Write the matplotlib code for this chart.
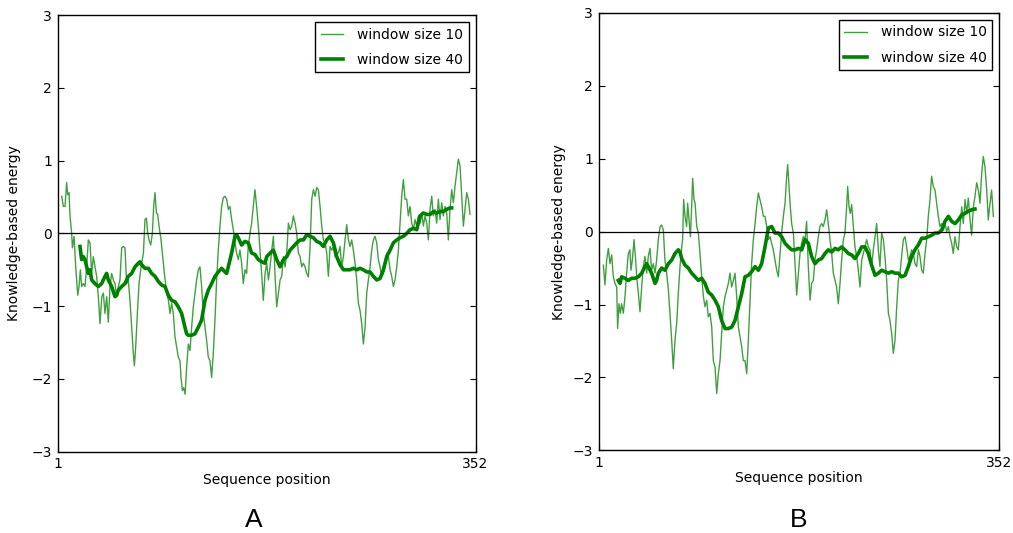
# -*- coding: utf-8 -*-
"""
Knowledge-based energy profiles, panels A and B
"""
import matplotlib
matplotlib.use("Agg")
import matplotlib.pyplot as plot

"""
data read off the two panels
"""
seqLength = 352
yTicks = [-3, -2, -1, 0, 1, 2, 3]
xTicks = [1, 352]
panelNames = ["A", "B"]
labelThin = "window size 10"
labelThick = "window size 40"

# panel A, window size 10
posA10 = [4.3, 5.7, 7.1, 8.5, 9.4, 10.5, 11.3, 12.7, 13.3, 14.7, 16.1, 17.8, 18.9, 20.0, 21.1, 22.5,
          23.9, 25.3, 26.7, 28.1, 29.5, 30.9, 32.3, 33.7, 35.1, 36.5, 38.0, 39.3, 40.7, 42.1, 43.5,
          44.9, 46.3, 47.7, 49.1, 50.5, 51.9, 53.3, 54.7, 56.1, 57.5, 58.9, 60.3, 61.7, 63.1, 64.5,
          65.4, 66.5, 67.9, 69.3, 71.0, 73.0, 74.3, 75.5, 76.6, 77.7, 79.1, 80.5, 81.6, 82.7, 83.9,
          85.0, 86.1, 87.8, 88.9, 90.6, 92.5, 94.0, 95.3, 96.7, 98.1, 99.5, 100.9, 102.3, 103.7,
          104.6, 105.7, 106.8, 108.0, 109.3, 110.7, 112.1, 113.5, 114.9, 116.3, 117.7, 119.1, 120.5,
          121.9, 123.3, 124.7, 126.1, 127.5, 128.9, 130.3, 131.7, 133.1, 134.5, 135.9, 137.3, 138.7,
          140.1, 141.5, 142.9, 144.3, 145.7, 147.1, 148.5, 149.9, 151.3, 152.7, 154.1, 155.5, 156.9,
          158.3, 159.7, 161.1, 162.5, 163.9, 165.3, 166.7, 168.1, 169.5, 170.9, 172.3, 173.7,
          175.2, 176.6, 178.0, 179.4, 180.8, 182.2, 183.6, 185.0, 186.4, 187.8, 189.2, 190.6, 192.0,
          193.4, 194.8, 196.2, 197.6, 199.0, 200.4, 201.8, 203.2, 204.6, 206.0, 207.4, 208.8, 210.2,
          211.6, 213.0, 214.4, 215.8, 217.2, 218.6, 220.0, 221.4, 222.8, 224.2, 225.6, 227.0, 228.4,
          229.8, 231.2, 232.6, 234.0, 235.4, 236.8, 238.2, 239.6, 241.0, 242.4, 243.8, 245.2, 246.6,
          248.0, 249.4, 250.8, 252.2, 253.6, 255.0, 256.4, 257.8, 259.2, 260.6, 262.0, 263.4, 264.8,
          266.2, 267.6, 269.0, 270.4, 271.8, 273.2, 274.6, 276.0, 277.4, 278.8, 280.2, 281.6, 283.0,
          284.4, 285.8, 287.2, 288.6, 290.0, 291.4, 292.8, 294.2, 295.6, 297.0, 298.4, 299.8, 301.2,
          302.6, 304.0, 305.4, 306.8, 308.2, 309.6, 311.0, 312.4, 313.8, 315.2, 316.6, 318.0, 319.4,
          320.8, 322.2, 323.6, 325.0, 326.4, 327.8, 329.2, 330.6, 332.0, 333.4, 334.8, 336.2, 337.6,
          339.0, 340.4, 341.8, 343.2, 344.6, 346.0, 347.4]
energyA10 = [0.51, 0.37, 0.37, 0.70, 0.53, 0.56, 0.24, 0.00, -0.20, -0.04, -0.46, -0.85, -0.73, -0.50,
             -0.73, -0.69, -0.73, -0.46, -0.09, -0.13, -0.55, -0.32, -0.46, -0.59, -0.87, -1.24, -0.87,
             -0.82, -1.10, -0.87, -1.22, -0.73, -0.55, -0.64, -0.69, -0.87, -0.73, -0.64, -0.20, -0.18,
             -0.20, -0.69, -0.64, -0.92, -1.29, -1.65, -1.82, -1.56, -1.10, -0.69, -0.46, -0.27, 0.19,
             0.21, 0.00, -0.09, -0.16, 0.00, 0.37, 0.56, 0.28, 0.26, 0.10, -0.09, -0.27, -0.55, -0.82,
             -0.92, -1.10, -0.96, -1.10, -1.42, -1.56, -1.70, -1.75, -1.98, -2.16, -2.12, -2.21, -1.84,
             -1.52, -1.61, -1.29, -1.01, -0.82, -0.64, -0.50, -0.46, -0.73, -1.10, -1.29, -1.47, -1.70,
             -1.75, -1.98, -1.65, -1.19, -0.64, -0.23, 0.10, 0.37, 0.49, 0.51, 0.47, 0.33, 0.37, 0.19,
             0.05, -0.13, -0.27, -0.36, -0.23, -0.41, -0.69, -0.50, -0.55, -0.18, 0.00, 0.14, 0.37,
             0.60, 0.37, 0.10, -0.23, -0.55, -0.92,
             -0.55, -0.41, -0.64, -0.46, -0.23, -0.04, -0.59, -1.01, -0.82, -0.64, -0.59, -0.32, -0.46,
             -0.27, 0.14, 0.05, 0.10, 0.24, 0.14, 0.00, -0.27, -0.32, -0.46, -0.41, -0.46, -0.55,
             -0.60, -0.18, 0.47, 0.60, 0.51, 0.63, 0.60, 0.37, 0.10, -0.09, -0.13, -0.27, -0.59,
             -0.18, -0.23, -0.18, -0.32, -0.27, -0.27, -0.18, -0.46, -0.32, -0.09, 0.12, -0.09, -0.18,
             -0.09, -0.23, -0.41, -0.64, -0.96, -1.06, -1.24, -1.52, -1.29, -0.82, -0.64, -0.46, -0.23,
             -0.09, -0.04, -0.13, -0.36, -0.46, -0.59, -0.55, -0.46, -0.27, -0.32, -0.50, -0.59, -0.73,
             -0.64, -0.46, -0.23, 0.14, 0.51, 0.74, 0.47, 0.47, 0.24, 0.37, 0.14, 0.05, 0.19,
             0.10, 0.24, 0.14, 0.28, 0.10, 0.24, 0.14, -0.09, 0.33, 0.51, 0.24, 0.33, 0.14,
             0.47, 0.19, 0.42, 0.24, 0.37, 0.28, -0.09, 0.33, 0.60, 0.42, 0.65, 0.83, 1.02,
             0.93, 0.51, 0.10, 0.33, 0.56, 0.47, 0.26]

# panel A, window size 40
posA40 = [19.7, 21.1, 22.5, 23.9, 25.3, 26.7, 28.1, 29.5, 32.3, 35.1, 37.9, 40.7, 42.1, 43.5, 46.3,
          49.1, 50.5, 51.9, 54.7, 57.5, 60.3, 63.1, 65.9, 68.7, 70.1, 71.5, 74.3, 77.1, 79.9, 82.7,
          85.5, 88.3, 91.1, 93.9, 96.7, 99.5, 102.3, 105.1, 107.9, 109.3, 110.7, 113.5, 116.3, 119.1,
          121.9, 124.7, 127.5, 130.3, 133.1, 135.9, 138.7, 141.5, 142.9, 144.3, 147.1, 149.9, 151.3,
          152.7, 155.5, 158.3, 161.1, 163.9, 166.7, 169.5, 172.3, 175.1,
          176.6, 179.4, 182.2, 185.0, 187.8, 190.6, 193.4, 196.2, 199.0, 201.8, 204.6, 207.4, 210.2,
          213.0, 215.8, 218.6, 221.4, 224.2, 227.0, 229.8, 232.6, 235.4, 238.2, 241.0, 243.8, 246.6,
          249.4, 252.2, 255.0, 257.8, 260.6, 263.4, 266.2, 269.0, 271.8, 274.6, 277.4, 280.2, 283.0,
          285.8, 288.6, 291.4, 294.2, 297.0, 299.8, 302.6, 305.4, 308.2, 311.0, 313.8, 316.6, 319.4,
          322.2, 325.0, 327.8, 330.6, 332.0]
energyA40 = [-0.18, -0.36, -0.32, -0.36, -0.46, -0.55, -0.50, -0.64, -0.69, -0.73, -0.69, -0.59, -0.55,
             -0.64, -0.73, -0.87, -0.85, -0.78, -0.73, -0.69, -0.59, -0.55, -0.46, -0.41, -0.39, -0.43,
             -0.48, -0.48, -0.55, -0.59, -0.66, -0.71, -0.73, -0.85, -0.92, -0.94, -1.01, -1.10, -1.29,
             -1.38, -1.40, -1.40, -1.38, -1.29, -1.19, -0.92, -0.78, -0.69, -0.59, -0.53, -0.48, -0.53,
             -0.55, -0.46, -0.27, -0.04, -0.02, -0.06, -0.16, -0.11, -0.13, -0.27, -0.29, -0.36, -0.39,
             -0.41,
             -0.32, -0.27, -0.23, -0.36, -0.46, -0.36, -0.32, -0.23, -0.18, -0.13, -0.09, -0.09, -0.02,
             -0.04, -0.06, -0.11, -0.13, -0.18, -0.09, -0.04, -0.13, -0.32, -0.43, -0.50, -0.50, -0.50,
             -0.48, -0.50, -0.48, -0.50, -0.53, -0.53, -0.59, -0.64, -0.62, -0.50, -0.32, -0.23, -0.13,
             -0.09, -0.06, -0.04, 0.00, 0.05, 0.07, 0.05, 0.24, 0.28, 0.26, 0.26, 0.30, 0.28,
             0.30, 0.30, 0.33, 0.35, 0.35]

# panel B, window size 10
posB10 = [5.1, 6.5, 8.0, 9.5, 10.9, 12.4, 13.8, 15.3, 16.8, 17.6, 18.8, 20.0, 21.1, 22.6, 24.1, 25.5,
          27.0, 28.4, 29.3, 30.5, 32.0, 33.4, 34.6, 35.8, 37.2, 38.7, 40.1, 41.6, 43.1, 44.5, 46.0,
          47.4, 48.9, 50.4, 51.8, 53.3, 54.8, 56.2, 57.7, 59.1, 60.6, 62.1, 63.5, 65.0, 66.4, 67.9,
          69.4, 70.8, 72.3, 73.8, 74.6, 75.5, 76.7, 78.1, 79.0, 80.2, 81.4, 82.5, 83.4, 84.6, 85.5,
          87.0, 88.4, 89.8, 91.3, 92.8, 94.2, 95.7, 97.1, 98.6, 100.1, 101.5, 103.0, 104.5, 105.9,
          107.4, 108.8, 110.3, 111.8, 113.2, 114.7, 116.1, 117.6, 119.1, 120.5, 122.0, 123.5, 124.9,
          126.4, 127.8, 129.3, 130.8, 132.2, 133.7, 135.1, 136.6, 138.1, 139.5, 141.0, 142.4, 143.9,
          145.4, 146.8, 148.3, 149.8, 151.2, 152.7, 154.1, 155.6, 157.1, 158.5, 160.0, 161.4, 162.9,
          164.4, 165.8, 166.7, 167.9, 169.0, 170.2, 171.7, 173.1, 174.6, 176.1, 177.5,
          178.9, 180.4, 181.9, 183.3, 184.8, 186.3, 187.7, 189.2, 190.6, 192.1, 193.6, 195.0, 196.5,
          197.9, 199.4, 200.9, 202.3, 203.8, 205.3, 206.7, 208.2, 209.6, 211.1, 212.6, 214.0, 215.5,
          216.9, 218.4, 219.3, 220.5, 221.6, 222.8, 224.3, 225.7, 227.2, 228.6, 230.1, 231.6, 233.0,
          234.5, 236.0, 237.4, 238.9, 240.3, 241.8, 243.3, 244.7, 246.2, 247.6, 249.1, 250.6, 252.0,
          253.5, 255.0, 256.4, 257.9, 259.3, 260.8, 262.3, 263.7, 265.2, 266.6, 268.1, 269.6, 271.0,
          272.5, 273.9, 275.4, 276.9, 278.3, 279.8, 281.3, 282.7, 284.2, 285.6, 287.1, 288.6, 290.0,
          291.5, 292.9, 294.4, 295.9, 297.3, 298.8, 300.2, 301.7, 303.2, 304.6, 306.1, 307.6, 309.0,
          310.5, 311.9, 313.4, 314.9, 316.3, 317.8, 319.3, 320.7, 322.2, 323.6, 325.1, 326.6, 328.0,
          329.5, 330.9, 332.4, 333.9, 335.3, 336.8, 338.2, 339.7, 341.2, 342.6, 344.1, 345.5, 347.0]
energyB10 = [-0.46, -0.73, -0.39, -0.23, -0.44, -0.32, -0.62, -0.71, -0.76, -1.33, -0.99, -1.12, -0.99,
             -1.12, -0.89, -0.57, -0.30, -0.25, -0.53, -0.39, -0.11, -0.39, -0.67, -0.85, -1.10, -0.76,
             -0.48, -0.34, -0.57, -0.34, -0.23, -0.53, -0.44, -0.57, -0.39, -0.11, 0.07, 0.09, 0.02,
             -0.39, -0.57, -0.80, -1.12, -1.49, -1.88, -1.49, -1.26, -0.85, -0.48, -0.21, -0.11, 0.44,
             0.21, 0.07, 0.39, 0.16, -0.07, 0.34, 0.73, 0.44, 0.39, 0.07, -0.02, -0.30, -0.62, -0.89,
             -1.03, -0.94, -1.17, -1.12, -1.31, -1.77, -1.86, -2.22, -1.95, -1.77, -1.40, -1.03, -0.89,
             -0.80, -0.71, -0.57, -0.76, -0.67, -0.57, -0.89, -1.31, -1.44, -1.58, -1.77, -1.77, -1.95,
             -1.49, -0.94, -0.44, -0.11, 0.11, 0.34, 0.53, 0.44, 0.34, 0.21, 0.21, 0.07, -0.11, -0.07,
             -0.16, -0.25, -0.39, -0.53, -0.62, -0.30, -0.02, 0.21, 0.39, 0.76, 0.92, 0.62, 0.34,
             0.11, -0.02, -0.44, -0.87, -0.57, -0.30,
             -0.16, -0.07, -0.11, 0.14, -0.48, -0.94, -0.71, -0.67, -0.39, -0.25, -0.07, 0.07, 0.11,
             0.07, 0.16, 0.30, 0.11, -0.11, -0.30, -0.57, -0.67, -0.76, -0.99, -0.71, -0.39, -0.11,
             -0.02, 0.34, 0.62, 0.34, 0.25, 0.37, 0.07, -0.21, -0.34, -0.53, -0.76, -0.39, -0.30,
             -0.21, -0.11, -0.21, -0.25, -0.48, -0.25, -0.07, 0.11, -0.25, -0.48, -0.02, -0.11, -0.34,
             -0.67, -1.12, -1.22, -1.40, -1.67, -1.49, -1.03, -0.67, -0.57, -0.34, -0.11, -0.07, -0.21,
             -0.39, -0.34, -0.25, -0.30, -0.44, -0.48, -0.25, -0.34, -0.53, -0.57, -0.30, -0.11, 0.21,
             0.44, 0.76, 0.62, 0.57, 0.39, 0.21, 0.07, 0.11, 0.02, 0.11, 0.00, 0.07, -0.07,
             -0.16, -0.30, -0.07, -0.21, -0.25, 0.07, 0.34, 0.11, 0.44, 0.25, 0.46, 0.16, -0.05,
             0.34, 0.48, 0.67, 0.57, 0.39, 0.80, 1.03, 0.89, 0.57, 0.16, 0.39, 0.57, 0.21]

# panel B, window size 40
posB40 = [18.2, 19.7, 21.1, 24.1, 27.0, 29.9, 32.8, 35.8, 38.7, 41.6, 43.1, 44.5, 47.4, 50.4, 51.8,
          53.3, 56.2, 59.1, 62.1, 65.0, 67.9, 70.8, 72.3, 73.8, 76.7, 79.6, 82.5, 85.5, 88.4, 91.3,
          94.2, 97.1, 100.1, 103.0, 105.9, 108.8, 111.8, 114.7, 117.6, 120.5, 123.5, 126.4, 129.3,
          132.2, 135.1, 138.1, 141.0, 143.9, 146.8, 149.8, 152.7, 155.6, 158.5, 161.4, 164.4, 167.3,
          170.2, 173.1, 176.1, 179.0,
          181.9, 184.8, 187.7, 190.6, 193.6, 196.5, 199.4, 202.3, 205.3, 208.2, 211.1, 214.0, 216.9,
          219.9, 222.8, 225.7, 228.6, 231.6, 234.5, 237.4, 240.3, 243.3, 246.2, 249.1, 252.0, 255.0,
          257.9, 260.8, 263.7, 266.6, 269.6, 272.5, 275.4, 278.3, 281.3, 284.2, 287.1, 290.0, 292.9,
          295.9, 298.8, 301.7, 304.6, 307.6, 310.5, 313.4, 316.3, 319.3, 322.2, 325.1, 328.0, 330.9]
energyB40 = [-0.67, -0.71, -0.62, -0.64, -0.67, -0.64, -0.64, -0.62, -0.57, -0.48, -0.44, -0.48, -0.57,
             -0.71, -0.67, -0.57, -0.50, -0.53, -0.44, -0.39, -0.30, -0.25, -0.28, -0.37, -0.46, -0.50,
             -0.57, -0.62, -0.67, -0.64, -0.71, -0.83, -0.87, -0.94, -1.03, -1.22, -1.33, -1.33, -1.31,
             -1.22, -1.03, -0.85, -0.62, -0.60, -0.55, -0.48, -0.53, -0.44, -0.21, 0.05, 0.07, -0.02,
             -0.02, -0.07, -0.16, -0.21, -0.25, -0.25, -0.23, -0.25,
             -0.11, -0.16, -0.34, -0.44, -0.39, -0.37, -0.30, -0.25, -0.28, -0.23, -0.25, -0.21, -0.25,
             -0.30, -0.32, -0.37, -0.30, -0.21, -0.21, -0.30, -0.46, -0.60, -0.57, -0.53, -0.55, -0.57,
             -0.55, -0.57, -0.57, -0.62, -0.60, -0.48, -0.34, -0.25, -0.18, -0.09, -0.09, -0.07, -0.05,
             -0.02, -0.02, 0.02, 0.14, 0.21, 0.14, 0.11, 0.16, 0.23, 0.25, 0.28, 0.30, 0.31]

panelData = [(posA10, energyA10, posA40, energyA40), (posB10, energyB10, posB40, energyB40)]

"""
figure
"""
plot.rcParams["font.family"] = "DejaVu Sans"
plot.rcParams["font.size"] = 10

fig = plot.figure(figsize=(10.13, 5.33), dpi=100)
fig.patch.set_facecolor("white")

# axes boxes in figure fractions [left, bottom, width, height]
boxes = [[0.0570, 0.1525, 0.4124, 0.8193], [0.5910, 0.1552, 0.3952, 0.8205]]
ylabelX = [-0.088, -0.082]
letterX = [254 / 1013, 799 / 1013]

for i in range(2):
    p10, e10, p40, e40 = panelData[i]
    ax = fig.add_axes(boxes[i])
    ax.plot(p10, e10, color="green", linewidth=1.0, alpha=0.75, label=labelThin)
    ax.plot(p40, e40, color="green", linewidth=2.6, label=labelThick)
    ax.axhline(0, color="black", linewidth=0.9)
    ax.set_xlim(1, seqLength)
    ax.set_ylim(-3, 3)
    ax.set_xticks(xTicks)
    ax.set_yticks(yTicks)
    ax.tick_params(direction="in", top=True, right=True, length=4, width=0.8, pad=4, labelsize=10)
    for s in ax.spines.values():
        s.set_linewidth(1.0)
        s.set_color("black")
    ax.set_xlabel("Sequence position", fontsize=10, labelpad=1)
    ax.set_ylabel("Knowledge-based energy", fontsize=10)
    ax.yaxis.set_label_coords(ylabelX[i], 0.5)
    leg = ax.legend(loc="upper right", fontsize=10, fancybox=False, framealpha=1,
                    handlelength=1.6, handletextpad=1.0, borderpad=0.4, labelspacing=0.8,
                    borderaxespad=0.5)
    leg.get_frame().set_edgecolor("black")
    leg.get_frame().set_linewidth(1.0)
    fig.text(letterX[i], 1 - 520 / 533, panelNames[i], ha="center", va="center",
             fontsize=19, family="Liberation Sans")

fig.savefig("out.png", dpi=100)
